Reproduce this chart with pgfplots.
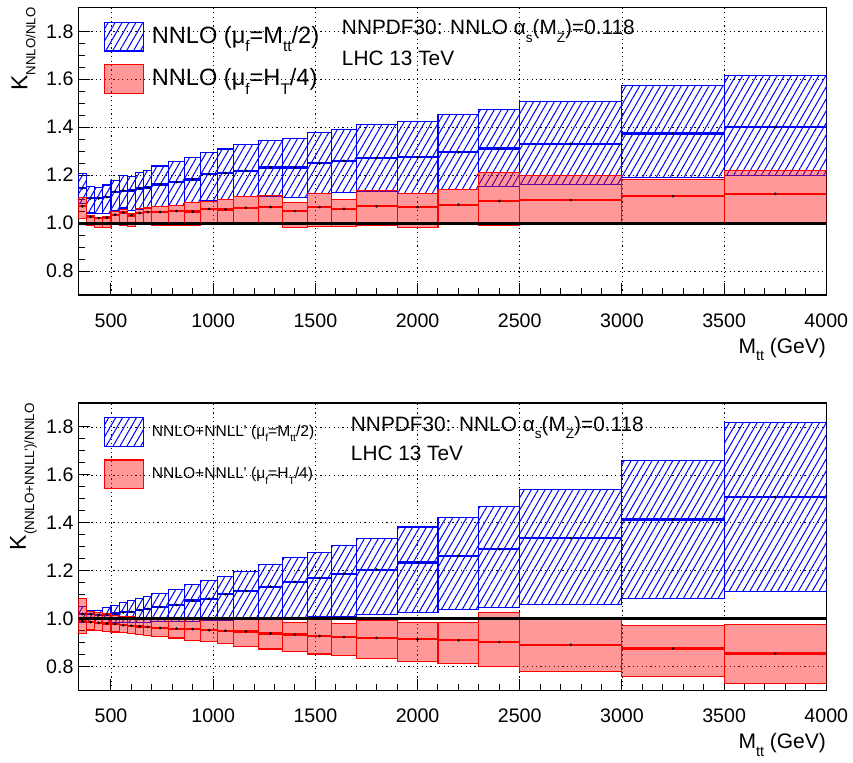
\documentclass[border=0pt]{standalone}
\usepackage{fontspec}
\setmainfont{Liberation Sans}
\usepackage{pgfplots}
\pgfplotsset{compat=1.18}
\usepackage{pgfplotstable}
\usetikzlibrary{patterns.meta}

\definecolor{rootblue}{RGB}{0,0,255}
\definecolor{rootred}{RGB}{255,0,0}

\newcommand\lsub[2]{\raisebox{-0.35em}{\fontsize{#1}{#1}\selectfont #2}}

% columns: bin low edge, bin high edge, bin centre, blue band (low, central, high), red band (low, central, high)
\pgfplotstableread{
xlo xhi xc blo bc bhi rlo rc rhi
340 380 360 1.080 1.145 1.205 1.018 1.070 1.108
380 420 400 1.042 1.103 1.152 0.990 1.027 1.033
420 460 440 1.039 1.103 1.149 0.982 1.021 1.025
460 500 480 1.041 1.108 1.159 0.982 1.023 1.028
500 540 520 1.052 1.131 1.179 0.996 1.035 1.049
540 580 560 1.063 1.135 1.197 0.990 1.044 1.056
580 620 600 1.053 1.136 1.195 0.985 1.032 1.041
620 660 640 1.056 1.144 1.210 0.993 1.042 1.059
660 700 680 1.063 1.148 1.221 0.996 1.046 1.063
700 780 740 1.069 1.161 1.238 0.990 1.046 1.068
780 860 820 1.074 1.171 1.256 0.992 1.050 1.074
860 940 900 1.085 1.182 1.273 0.988 1.048 1.085
940 1020 980 1.092 1.204 1.296 0.997 1.059 1.091
1020 1100 1060 1.098 1.208 1.309 0.993 1.057 1.098
1100 1220 1160 1.109 1.218 1.328 0.996 1.064 1.109
1220 1340 1280 1.112 1.232 1.346 0.996 1.067 1.115
1340 1460 1400 1.106 1.232 1.352 0.982 1.050 1.087
1460 1580 1520 1.123 1.249 1.377 0.987 1.067 1.123
1580 1700 1640 1.126 1.260 1.392 0.987 1.059 1.099
1700 1900 1800 1.130 1.271 1.410 0.988 1.070 1.135
1900 2100 2000 1.125 1.274 1.424 0.983 1.067 1.123
2100 2300 2200 1.140 1.295 1.454 0.994 1.077 1.140
2300 2500 2400 1.154 1.311 1.475 0.992 1.092 1.211
2500 3000 2750 1.162 1.331 1.507 0.993 1.096 1.200
3000 3500 3250 1.189 1.374 1.575 1.004 1.112 1.183
3500 4000 3750 1.200 1.400 1.617 1.000 1.122 1.221
}\topdata

\pgfplotstableread{
xlo xhi xc blo bc bhi rlo rc rhi
340 380 360 0.985 1.020 1.050 0.940 0.990 1.085
380 420 400 0.987 1.020 1.036 0.953 0.986 1.032
420 460 440 0.985 1.015 1.036 0.952 0.983 1.025
460 500 480 0.983 1.018 1.048 0.948 0.980 1.020
500 540 520 0.983 1.022 1.057 0.945 0.978 1.015
540 580 560 0.983 1.027 1.069 0.941 0.973 1.011
580 620 600 0.984 1.029 1.076 0.938 0.971 1.008
620 660 640 0.985 1.036 1.084 0.934 0.968 1.006
660 700 680 0.986 1.041 1.092 0.931 0.966 1.003
700 780 740 0.987 1.050 1.106 0.927 0.962 1.001
780 860 820 0.990 1.057 1.123 0.920 0.959 1.000
860 940 900 0.990 1.076 1.143 0.910 0.957 1.000
940 1020 980 0.993 1.084 1.160 0.906 0.952 1.000
1020 1100 1060 0.994 1.102 1.178 0.897 0.950 1.000
1100 1220 1160 0.997 1.116 1.199 0.884 0.947 1.000
1220 1340 1280 0.997 1.134 1.226 0.874 0.939 0.998
1340 1460 1400 1.001 1.154 1.254 0.864 0.934 0.983
1460 1580 1520 1.008 1.170 1.278 0.853 0.928 0.998
1580 1700 1640 1.011 1.188 1.305 0.845 0.924 0.980
1700 1900 1800 1.018 1.205 1.336 0.834 0.920 0.993
1900 2100 2000 1.025 1.235 1.383 0.820 0.914 0.984
2100 2300 2200 1.037 1.263 1.422 0.813 0.910 0.986
2300 2500 2400 1.046 1.290 1.467 0.800 0.903 1.028
2500 3000 2750 1.058 1.336 1.539 0.781 0.892 1.003
3000 3500 3250 1.084 1.414 1.661 0.758 0.876 0.971
3500 4000 3750 1.113 1.508 1.819 0.730 0.855 0.978
}\botdata

\tikzset{
  bbox/.style={draw=rootblue, line width=0.55pt,
    pattern={Lines[angle=60,distance=3pt,line width=0.5pt]}, pattern color=rootblue},
  rbox/.style={draw=rootred, line width=0.55pt, fill=rootred, fill opacity=0.4},
  bline/.style={draw=rootblue, line width=1.1pt},
  rline/.style={draw=rootred, line width=1.1pt},
}

\newcommand\drawbands[1]{%
  \pgfplotsforeachungrouped \i in {0,...,25}{%
    \pgfplotstablegetelem{\i}{xlo}\of#1\let\dxlo\pgfplotsretval
    \pgfplotstablegetelem{\i}{xhi}\of#1\let\dxhi\pgfplotsretval
    \pgfplotstablegetelem{\i}{blo}\of#1\let\dlo\pgfplotsretval
    \pgfplotstablegetelem{\i}{bc}\of#1\let\dce\pgfplotsretval
    \pgfplotstablegetelem{\i}{bhi}\of#1\let\dhi\pgfplotsretval
    \edef\tmp{\noexpand\addplot[bbox,forget plot] coordinates {(\dxlo,\dlo) (\dxhi,\dlo) (\dxhi,\dhi) (\dxlo,\dhi)} -- cycle;
      \noexpand\addplot[bline,forget plot] coordinates {(\dxlo,\dce) (\dxhi,\dce)};}%
    \tmp
  }%
  \pgfplotsforeachungrouped \i in {0,...,25}{%
    \pgfplotstablegetelem{\i}{xlo}\of#1\let\dxlo\pgfplotsretval
    \pgfplotstablegetelem{\i}{xhi}\of#1\let\dxhi\pgfplotsretval
    \pgfplotstablegetelem{\i}{rlo}\of#1\let\dlo\pgfplotsretval
    \pgfplotstablegetelem{\i}{rc}\of#1\let\dce\pgfplotsretval
    \pgfplotstablegetelem{\i}{rhi}\of#1\let\dhi\pgfplotsretval
    \edef\tmp{\noexpand\addplot[rbox,forget plot] coordinates {(\dxlo,\dlo) (\dxhi,\dlo) (\dxhi,\dhi) (\dxlo,\dhi)} -- cycle;
      \noexpand\addplot[rline,forget plot] coordinates {(\dxlo,\dce) (\dxhi,\dce)};}%
    \tmp
  }%
  \addplot[only marks, mark=*, mark size=0.45pt, black, forget plot] table[x=xc,y=bc]{#1};
  \addplot[only marks, mark=*, mark size=0.45pt, black, forget plot] table[x=xc,y=rc]{#1};
  \addplot[black, line width=1.5pt, forget plot] coordinates {(340,1) (4000,1)};
}

\pgfplotsset{
  kaxis/.style={
    scale only axis, width=374pt, height=143.85pt,
    xmin=340, xmax=4000, ymin=0.7, ymax=1.9,
    xtick={500,1000,...,4000}, ytick={0.8,1.0,1.2,1.4,1.6,1.8},
    minor x tick num=4, minor y tick num=3,
    tick align=inside, tick pos=left,
    major tick length=6pt, minor tick length=3.5pt,
    grid=major,
    major grid style={black, line width=0.4pt, dash pattern=on 0.6pt off 1.6pt},
    axis line style={line width=0.6pt},
    every tick/.style={black, line width=0.5pt},
    scaled ticks=false,
    /pgf/number format/assume math mode=true,
    tick label style={font=\fontsize{9.8}{11}\selectfont},
    xticklabel style={/pgf/number format/1000 sep={}, yshift=-5.7pt},
    yticklabel style={/pgf/number format/fixed, /pgf/number format/fixed zerofill,
      /pgf/number format/precision=1, xshift=1.1pt},
    xlabel style={at={(axis description cs:1,0)}, anchor=north east, inner sep=0pt,
      yshift=-21.2pt, font=\fontsize{10.5}{12}\selectfont},
    ylabel style={at={(axis description cs:-0.0733,1)}, anchor=east, inner sep=0pt,
      font=\fontsize{11.5}{13}\selectfont},
    legend image code/.code={\draw[##1] (0pt,-7.2pt) rectangle (19.35pt,7.2pt);},
    legend style={draw=none, fill=none, inner sep=0pt, outer sep=0pt, anchor=north west,
      column sep=4pt, nodes={inner sep=0pt}},
    legend cell align=left,
  },
}

\begin{document}
\begin{tikzpicture}
\useasboundingbox (0,0) rectangle (426.5pt,381pt);

% top panel
\begin{axis}[kaxis, at={(39.15pt,233.5pt)}, anchor=south west,
  xlabel={M\lsub{7.2}{tt} (GeV)},
  ylabel={K\lsub{6.6}{NNLO/NLO}},
  legend style={at={(axis description cs:0.0344,0.950)}, row sep=6.1pt,
    font=\fontsize{11.8}{13}\selectfont},
]
\addlegendimage{bbox}
\addlegendentry{NNLO (μ\lsub{7.7}{f}=M\lsub{7.7}{tt}/2)}
\addlegendimage{rbox}
\addlegendentry{NNLO (μ\lsub{7.7}{f}=H\lsub{7.7}{T}/4)}
\drawbands{\topdata}
\node[anchor=base west, inner sep=0pt, font=\fontsize{10.4}{12}\selectfont]
  at (axis description cs:0.352,0.904) {NNPDF30: NNLO α\lsub{6.8}{s}(M\lsub{6.8}{Z})=0.118};
\node[anchor=base west, inner sep=0pt, font=\fontsize{10.4}{12}\selectfont]
  at (axis description cs:0.352,0.799) {LHC 13 TeV};
\end{axis}

% bottom panel
\begin{axis}[kaxis, at={(39.15pt,35.65pt)}, anchor=south west,
  xlabel={M\lsub{7.2}{tt} (GeV)},
  ylabel={K\lsub{6.7}{(NNLO+NNLL')/NNLO}},
  legend style={at={(axis description cs:0.0344,0.951)}, row sep=6.25pt,
    font=\fontsize{7.8}{9}\selectfont},
]
\addlegendimage{bbox}
\addlegendentry{NNLO+NNLL' (μ\lsub{5.2}{f}=M\lsub{5.2}{tt}/2)}
\addlegendimage{rbox}
\addlegendentry{NNLO+NNLL' (μ\lsub{5.2}{f}=H\lsub{5.2}{T}/4)}
\drawbands{\botdata}
\node[anchor=base west, inner sep=0pt, font=\fontsize{10.4}{12}\selectfont]
  at (axis description cs:0.364,0.901) {NNPDF30: NNLO α\lsub{6.8}{s}(M\lsub{6.8}{Z})=0.118};
\node[anchor=base west, inner sep=0pt, font=\fontsize{10.4}{12}\selectfont]
  at (axis description cs:0.364,0.800) {LHC 13 TeV};
\end{axis}
\end{tikzpicture}
\end{document}
